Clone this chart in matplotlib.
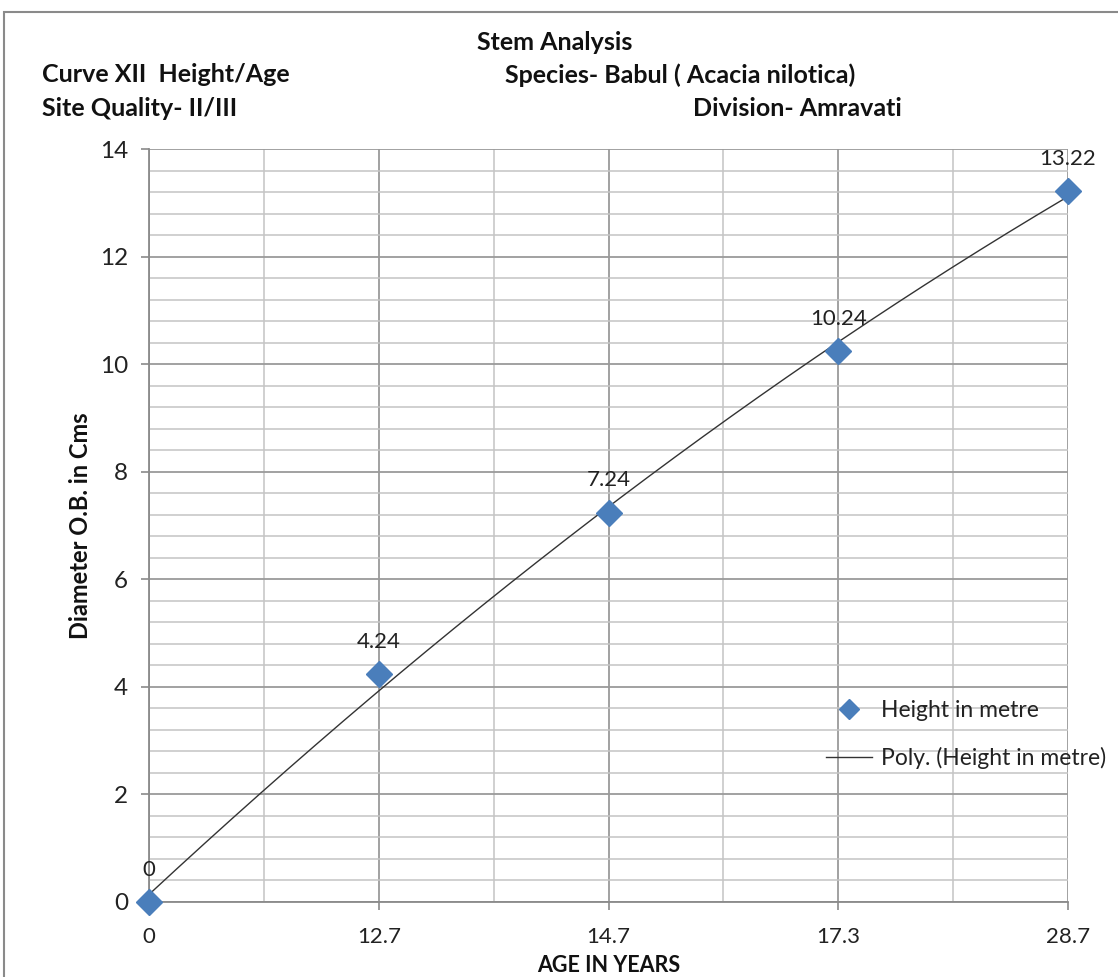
import numpy as np
import matplotlib
matplotlib.use("Agg")
import matplotlib.pyplot as plt
from matplotlib.patches import Rectangle
from matplotlib.lines import Line2D

categories = ["0", "12.7", "14.7", "17.3", "28.7"]
heights = [0, 4.24, 7.24, 10.24, 13.22]
data_labels = ["0", "4.24", "7.24", "10.24", "13.22"]

plt.rcParams['font.family'] = ['Lato', 'DejaVu Sans']

fig = plt.figure(figsize=(11.18, 9.77), dpi=100)
ax = fig.add_axes([149/1118, 1 - 902/977, (1068 - 149)/1118, (902 - 149)/977])

x = np.arange(len(categories))
blue = '#4a7ebb'

# polynomial trendline (order 2, Excel-style on 1-based category index)
xi = x + 1
coef = np.polyfit(xi, heights, 2)
xs = np.linspace(xi[0], xi[-1], 200)
ax.plot(xs - 1, np.polyval(coef, xs), color='#333333', lw=1.0, zorder=3)

ax.plot(x, heights, linestyle='none', marker='D', markersize=13, color=blue,
        markeredgecolor=blue, zorder=4, clip_on=False)

for xv, yv, lab in zip(x, heights, data_labels):
    ax.annotate(lab, (xv, yv), xytext=(0, 16), textcoords='offset points',
                ha='center', va='bottom', fontsize=16, color='#222222')

ax.set_xlim(0, len(categories) - 1)
ax.set_ylim(0, 14)
ax.set_xticks(x)
ax.set_xticklabels(categories)
ax.set_xticks(x[:-1] + 0.5, minor=True)
ax.set_yticks(np.arange(0, 15, 2))
ax.set_yticks(np.arange(0, 14.01, 0.4), minor=True)

ax.grid(which='major', color='#9a9a9a', lw=1.3)
ax.grid(which='minor', color='#c4c4c4', lw=1.1)
ax.set_axisbelow(True)

ax.tick_params(axis='both', which='major', labelsize=16, colors='#222222',
               length=6, width=1.2, color='#8a8a8a', direction='out')
ax.tick_params(axis='y', labelsize=17.5)
ax.tick_params(axis='both', which='minor', length=0)
ax.tick_params(axis='y', pad=9)
ax.tick_params(axis='x', pad=12)
for s in ['top', 'right']:
    ax.spines[s].set_visible(False)
for s in ['left', 'bottom']:
    ax.spines[s].set_color('#8a8a8a')
    ax.spines[s].set_linewidth(1.3)

ax.set_xlabel('AGE IN YEARS', fontsize=15.5, fontweight='bold', color='#111111')
ax.xaxis.set_label_coords(0.5, -(965 - 902) / (902 - 149))
ax.xaxis.label.set_va('center')
ax.set_ylabel('Diameter O.B. in Cms', fontsize=17, fontweight='bold', color='#111111')
ax.yaxis.set_label_coords(-(149 - 80) / (1068 - 149), 0.5)
ax.yaxis.label.set_va('center')

# titles
tkw = dict(fontsize=18, fontweight='bold', color='#111111', va='center')
fig.text(555/1118, 1 - 42/977, 'Stem Analysis', ha='center', **tkw)
fig.text(42/1118, 1 - 75/977, 'Curve XII  Height/Age', ha='left', **tkw)
fig.text(505/1118, 1 - 75/977, 'Species- Babul ( Acacia nilotica)', ha='left', **tkw)
fig.text(42/1118, 1 - 108/977, 'Site Quality- II/III', ha='left', **tkw)
fig.text(693/1118, 1 - 108/977, 'Division- Amravati', ha='left', **tkw)

# legend
handles = [Line2D([], [], linestyle='none', marker='D', markersize=10, color=blue),
           Line2D([], [], color='#333333', lw=1.0)]
leg = fig.legend(handles, ['Height in metre', 'Poly. (Height in metre)'],
                 loc='upper left', bbox_to_anchor=(826/1118, 1 - 700/977),
                 frameon=False, fontsize=16.5, handlelength=2.0, handletextpad=0.4,
                 labelspacing=1.15, borderpad=0, borderaxespad=0)
for t in leg.get_texts():
    t.set_color('#222222')

# chart area border
fig.patches.append(Rectangle((4/1118, -0.05), 1.2, 1 - 12/977 + 0.05,
                             transform=fig.transFigure, fill=False,
                             edgecolor='#8a8a8a', lw=1.5))

fig.savefig('out.png', dpi=100)
